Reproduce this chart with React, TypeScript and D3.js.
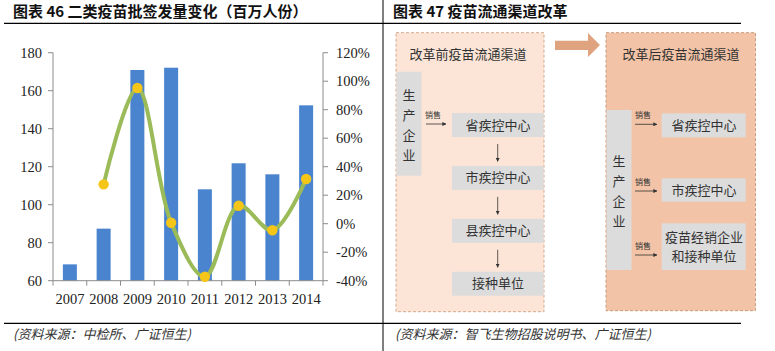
import React from 'react';
import * as d3 from 'd3';

const years = ['2007', '2008', '2009', '2010', '2011', '2012', '2013', '2014'];
const batches = [68.6, 87.4, 170.9, 172.1, 108.1, 121.8, 116.0, 152.3];
const growth: (number | null)[] = [null, 27.6, 95.2, 0.7, -37.2, 12.6, -4.6, 31.4];
const leftTicks = [60, 80, 100, 120, 140, 160, 180];
const rightTicks = [-40, -20, 0, 20, 40, 60, 80, 100, 120];

const title46 = '图表 46 二类疫苗批签发量变化（百万人份）';
const title47 = '图表 47 疫苗流通渠道改革';
const source46 = '(资料来源：中检所、广证恒生)';
const source47 = '(资料来源：智飞生物招股说明书、广证恒生)';

const beforeTitle = '改革前疫苗流通渠道';
const afterTitle = '改革后疫苗流通渠道';
const producer = ['生', '产', '企', '业'];
const beforeChain = ['省疾控中心', '市疾控中心', '县疾控中心', '接种单位'];
const afterTargets = [['省疾控中心'], ['市疾控中心'], ['疫苗经销企业', '和接种单位']];
const saleLabel = '销售';

const CJK = '"Noto Sans CJK SC", "Noto Sans", sans-serif';
const SERIF = '"Liberation Serif", "DejaVu Serif", serif';

export default function App() {
  const x = d3.scaleBand<string>().domain(years).range([53, 323]).paddingInner(0.585).paddingOuter(0.2925);
  const step = 270 / years.length;
  const yL = d3.scaleLinear().domain([60, 180]).range([280.7, 52.7]);
  const yR = d3.scaleLinear().domain([-40, 120]).range([280.7, 52.7]);
  const cx = (y: string) => (x(y) as number) + x.bandwidth() / 2;

  const pts = years.map((y, i) => ({ y, v: growth[i] })).filter(d => d.v !== null) as { y: string; v: number }[];
  const line = d3.line<{ y: string; v: number }>().x(d => cx(d.y)).y(d => yR(d.v)).curve(d3.curveCatmullRom.alpha(0.5));

  const axisColor = '#8c8c8c';
  const grayBox = '#dcdcdc';
  const arrowMarker = 'url(#ah)';

  return (
    <svg width={775} height={351} style={{ position: 'absolute', left: 0, top: 0, background: '#fff' }}>
      <defs>
        <marker id="ah" viewBox="0 0 6 6" refX="5.5" refY="3" markerWidth="5" markerHeight="5" orient="auto">
          <path d="M0,0 L6,3 L0,6 z" fill="#333" />
        </marker>
      </defs>
      <rect width={775} height={351} fill="#fff" />
      {/* frame lines */}
      <line x1={4} x2={741} y1={23.3} y2={23.3} stroke="#000" strokeWidth={1.3} />
      <line x1={4} x2={741} y1={323.3} y2={323.3} stroke="#000" strokeWidth={1.3} />
      <line x1={383} x2={383} y1={0} y2={351} stroke="#000" strokeWidth={1} />
      <text x={13} y={17} fontFamily={CJK} fontWeight="bold" fontSize={15} fill="#111">{title46}</text>
      <text x={393} y={17} fontFamily={CJK} fontWeight="bold" fontSize={15} fill="#111">{title47}</text>
      <text x={13} y={339} fontFamily={CJK} fontStyle="italic" fontSize={13} fill="#333">{source46}</text>
      <text x={395} y={339} fontFamily={CJK} fontStyle="italic" fontSize={13} fill="#333">{source47}</text>

      {/* left chart */}
      {batches.map((v, i) => (
        <rect key={years[i]} x={x(years[i])} width={x.bandwidth()} y={yL(v)} height={yL(60) - yL(v)} fill="#4a84cf" />
      ))}
      <line x1={53} x2={53} y1={52.7} y2={280.7} stroke={axisColor} />
      <line x1={323} x2={323} y1={52.7} y2={280.7} stroke={axisColor} />
      <line x1={53} x2={323} y1={280.7} y2={280.7} stroke={axisColor} />
      {leftTicks.map(t => (
        <g key={t}>
          <line x1={48} x2={53} y1={yL(t)} y2={yL(t)} stroke={axisColor} />
          <text x={42} y={yL(t)} dy="0.35em" textAnchor="end" fontFamily={SERIF} fontSize={14.5} fill="#222">{t}</text>
        </g>
      ))}
      {rightTicks.map(t => (
        <g key={t}>
          <line x1={323} x2={328} y1={yR(t)} y2={yR(t)} stroke={axisColor} />
          <text x={336} y={yR(t)} dy="0.35em" textAnchor="start" fontFamily={SERIF} fontSize={14.5} fill="#222">{t}%</text>
        </g>
      ))}
      {d3.range(years.length + 1).map(i => (
        <line key={i} x1={53 + i * step} x2={53 + i * step} y1={280.7} y2={285.7} stroke={axisColor} />
      ))}
      {years.map(y => (
        <text key={y} x={cx(y)} y={304} textAnchor="middle" fontFamily={SERIF} fontSize={14.5} fill="#222">{y}</text>
      ))}
      <path d={line(pts) as string} fill="none" stroke="#9bbb59" strokeWidth={4} />
      {pts.map(d => (
        <circle key={d.y} cx={cx(d.y)} cy={yR(d.v)} r={5.2} fill="#f5c518" />
      ))}

      {/* right diagram: before */}
      <rect x={396} y={32.7} width={148} height={279} fill="#fce5d6" stroke="#d4a98c" strokeDasharray="3,2" />
      <text x={468} y={59} textAnchor="middle" fontFamily={CJK} fontSize={13} fill="#333">{beforeTitle}</text>
      <rect x={396.5} y={71.7} width={25} height={104} fill={grayBox} />
      {producer.map((c, i) => (
        <text key={i} x={409} y={95 + i * 20} dy="0.35em" textAnchor="middle" fontFamily={CJK} fontSize={13} fill="#333">{c}</text>
      ))}
      <text x={433} y={115} dy="0.35em" textAnchor="middle" fontFamily={CJK} fontSize={8} fill="#333">{saleLabel}</text>
      <line x1={426} x2={446} y1={124} y2={124} stroke="#333" strokeWidth={0.8} markerEnd={arrowMarker} />
      {beforeChain.map((c, i) => {
        const top = 113 + i * 52.9;
        return (
          <g key={c}>
            <rect x={452} y={top} width={91.5} height={24} fill={grayBox} />
            <text x={498} y={top + 12} dy="0.35em" textAnchor="middle" fontFamily={CJK} fontSize={13} fill="#333">{c}</text>
            {i < beforeChain.length - 1 && (
              <line x1={497.7} x2={497.7} y1={top + 31} y2={top + 48.5} stroke="#333" strokeWidth={0.8} markerEnd={arrowMarker} />
            )}
          </g>
        );
      })}

      {/* arrow between */}
      <path d="M555,40.7 L588,40.7 L588,33 L600,45 L588,57 L588,50 L555,50 Z" fill="#e0a37f" />

      {/* right diagram: after */}
      <rect x={606} y={32.7} width={149.5} height={278} fill="#f2c3a6" stroke="#c99a7c" strokeDasharray="3,2" />
      <text x={681} y={59} textAnchor="middle" fontFamily={CJK} fontSize={13} fill="#333">{afterTitle}</text>
      <rect x={606.5} y={110} width={25} height={160} fill={grayBox} />
      {producer.map((c, i) => (
        <text key={i} x={619} y={161 + i * 20} dy="0.35em" textAnchor="middle" fontFamily={CJK} fontSize={13} fill="#333">{c}</text>
      ))}
      {afterTargets.map((lines, i) => {
        const tops = [113.3, 178.3, 223.3];
        const hs = [24, 23.4, 46.7];
        const arrowY = [124.3, 191, 255][i];
        const top = tops[i];
        const h = hs[i];
        return (
          <g key={i}>
            <text x={643} y={arrowY - 9} dy="0.35em" textAnchor="middle" fontFamily={CJK} fontSize={8} fill="#333">{saleLabel}</text>
            <line x1={635} x2={657} y1={arrowY} y2={arrowY} stroke="#333" strokeWidth={0.8} markerEnd={arrowMarker} />
            <rect x={661.7} y={top} width={84} height={h} fill={grayBox} />
            {lines.map((t, j) => (
              <text key={j} x={704} y={top + h / 2 + (j - (lines.length - 1) / 2) * 19} dy="0.35em" textAnchor="middle" fontFamily={CJK} fontSize={13} fill="#333">{t}</text>
            ))}
          </g>
        );
      })}
    </svg>
  );
}
